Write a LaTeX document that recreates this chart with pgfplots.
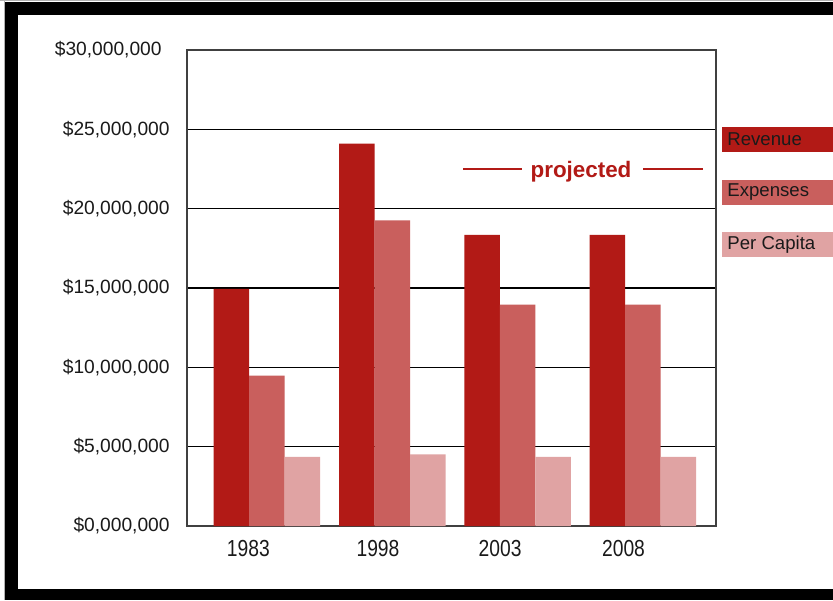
\documentclass[border=0pt]{standalone}
\usepackage{pgfplots}
\pgfplotsset{compat=1.18}
\usepackage{fontspec}
\setmainfont{Liberation Sans}
\newfontfamily\condfont[FakeStretch=0.83]{Liberation Sans}
\definecolor{colRev}{HTML}{B21A16}
\definecolor{colExp}{HTML}{C95F5D}
\definecolor{colCap}{HTML}{E0A3A3}
\definecolor{colTxt}{HTML}{1A1A1A}
\begin{document}
\begin{tikzpicture}
\useasboundingbox (0,0) rectangle (416.5pt,300pt);
\fill[white] (0,0) rectangle (416.5pt,300pt);
\draw[gray!60, line width=0.5pt] (0,299.6pt) -- (416.5pt,299.6pt);
\draw[gray!60, line width=0.5pt] (2pt,0) -- (2pt,300pt);
\fill[black] (2.5pt,292.5pt) rectangle (416.5pt,299pt);
\fill[black] (2.5pt,0) rectangle (9pt,299pt);
\fill[black] (2.5pt,0) rectangle (416.5pt,5.5pt);
\begin{axis}[
  at={(93.5pt,37pt)}, anchor=south west,
  scale only axis, width=264.5pt, height=238pt,
  xmin=-0.638, xmax=3.583,
  ymin=0, ymax=30000000,
  ybar=0pt, bar width=17.75pt,
  axis line style={draw=black!75, line width=0.6pt},
  ymajorgrids, grid style={black, line width=0.7pt},
  major tick length=0pt,
  ytick={0,5000000,10000000,15000000,20000000,25000000,30000000},
  yticklabels={\$0{,}000{,}000,\$5{,}000{,}000,\$10{,}000{,}000,\$15{,}000{,}000,\$20{,}000{,}000,\$25{,}000{,}000,\$30{,}000{,}000\kern4pt\relax},
  yticklabel style={anchor=east, inner sep=0pt, xshift=-8.5pt, font=\fontsize{9.6pt}{11pt}\selectfont, text=colTxt},
  xtick={-0.148,0.886,1.86,2.845},
  xticklabels={1983,1998,2003,2008},
  xticklabel style={anchor=north, inner sep=0pt, yshift=-7pt, font=\condfont\fontsize{11.6pt}{13pt}\selectfont, text=colTxt},
  scaled y ticks=false,
  clip=false,
]
\addplot[fill=colRev, draw=none] coordinates {(0,14950000) (1,24100000) (2,18350000) (3,18350000)};
\addplot[fill=colExp, draw=none] coordinates {(0,9480000) (1,19270000) (2,13950000) (3,13950000)};
\addplot[fill=colCap, draw=none] coordinates {(0,4350000) (1,4520000) (2,4350000) (3,4350000)};
\end{axis}
% legend boxes
\fill[colRev] (361pt,224pt) rectangle (416.5pt,236.5pt);
\fill[colExp] (361pt,197.5pt) rectangle (416.5pt,210pt);
\fill[colCap] (361pt,171.5pt) rectangle (416.5pt,184pt);
\node[anchor=west, inner sep=0pt, text=colTxt, font=\fontsize{9.3pt}{11pt}\selectfont] at (363.5pt,230.25pt) {Revenue};
\node[anchor=west, inner sep=0pt, text=colTxt, font=\fontsize{9.3pt}{11pt}\selectfont] at (363.5pt,203.75pt) {Expenses};
\node[anchor=west, inner sep=0pt, text=colTxt, font=\fontsize{9.3pt}{11pt}\selectfont] at (363.5pt,177.75pt) {Per Capita};
% projected annotation
\draw[colRev, line width=1pt] (231.5pt,215.5pt) -- (261pt,215.5pt);
\draw[colRev, line width=1pt] (321.5pt,215.5pt) -- (351.5pt,215.5pt);
\node[anchor=base, inner sep=0pt, text=colRev, font=\bfseries\fontsize{11.2pt}{13pt}\selectfont] at (290.5pt,211pt) {projected};
\end{tikzpicture}
\end{document}
